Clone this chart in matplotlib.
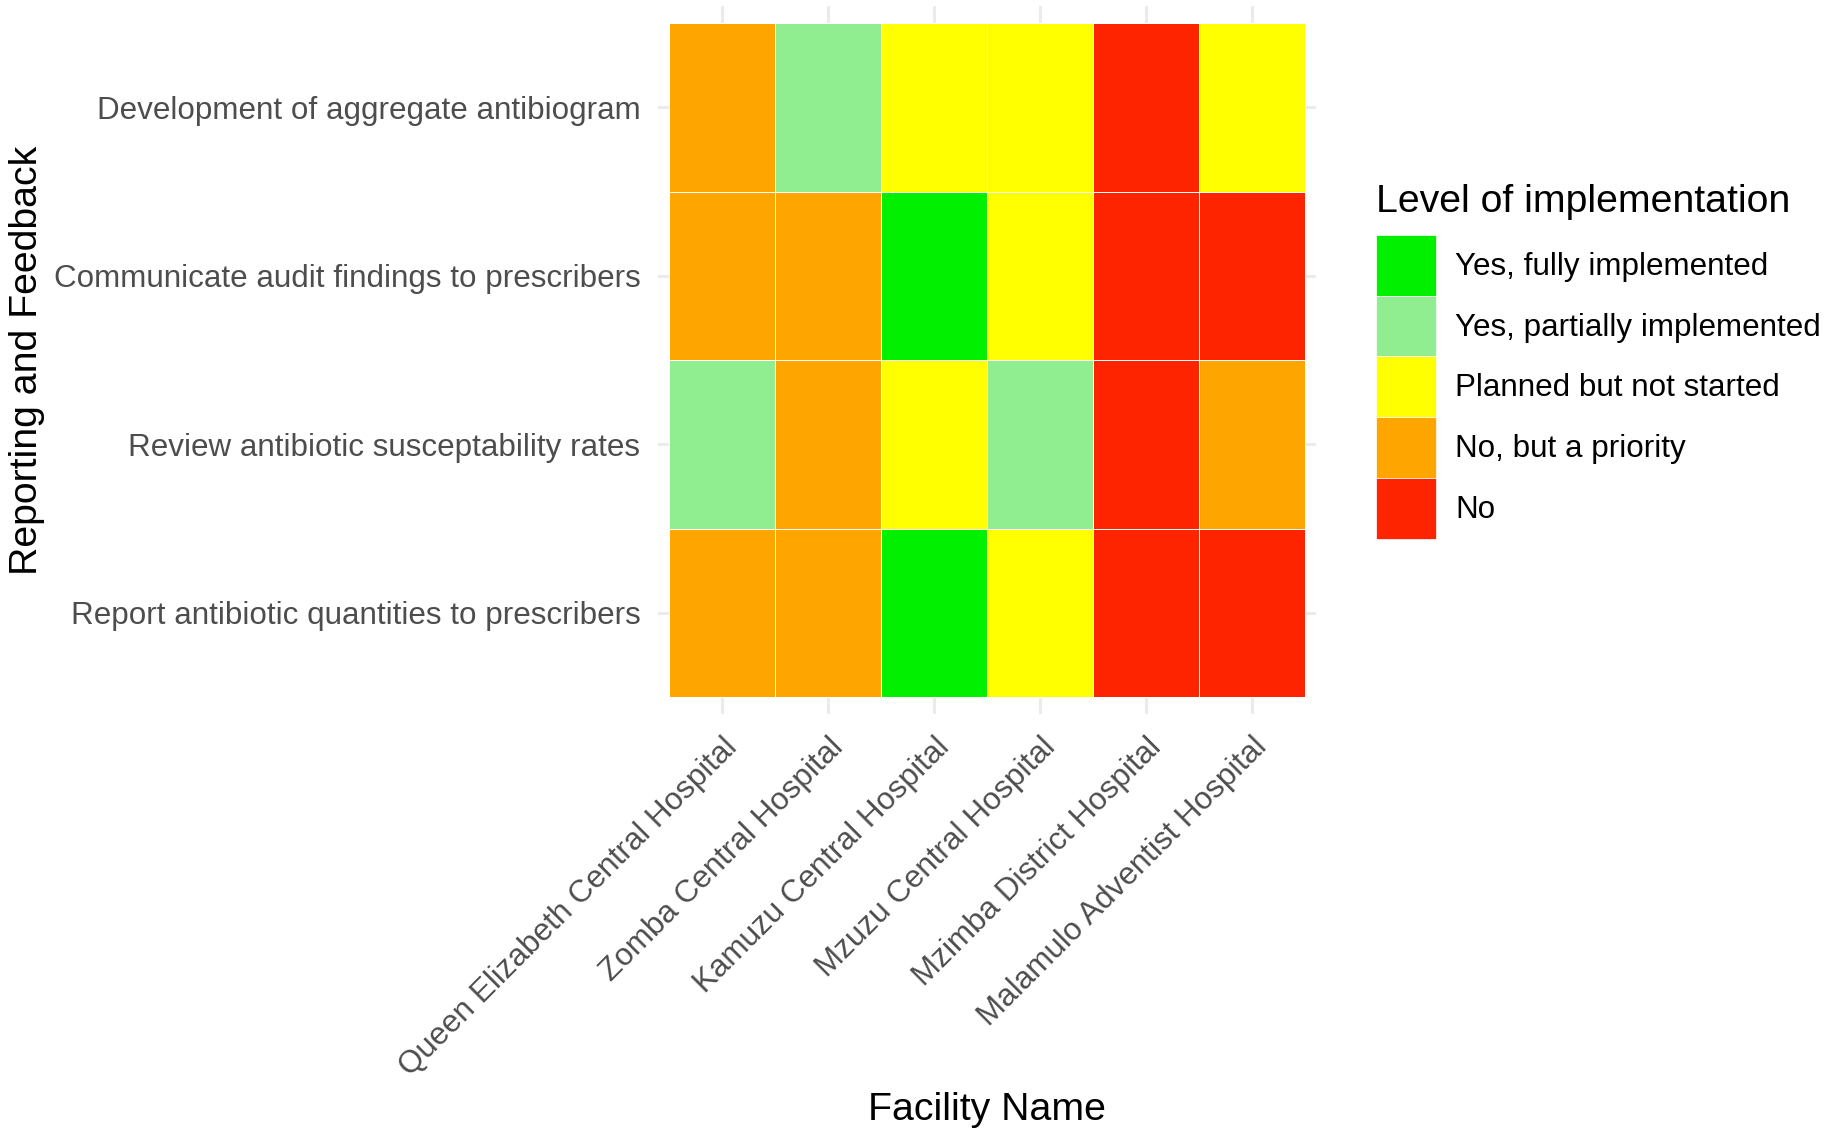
import matplotlib
matplotlib.use("Agg")
import matplotlib.pyplot as plt
import numpy as np
from matplotlib.colors import ListedColormap
from matplotlib.patches import Patch

plt.rcParams['font.family'] = ['Liberation Sans', 'DejaVu Sans']

# categories
facilities = ['Queen Elizabeth Central Hospital', 'Zomba Central Hospital',
              'Kamuzu Central Hospital', 'Mzuzu Central Hospital',
              'Mzimba District Hospital', 'Malamulo Adventist Hospital']
activities = ['Development of aggregate antibiogram',
              'Communicate audit findings to prescribers',
              'Review antibiotic susceptability rates',
              'Report antibiotic quantities to prescribers']

levels = ['Yes, fully implemented', 'Yes, partially implemented',
          'Planned but not started', 'No, but a priority', 'No']
level_colors = ['#00F000', '#90EE90', '#FFFF00', '#FFA500', '#FF2400']

# level index per activity (rows, top to bottom) and facility (columns)
status = [
    [3, 1, 2, 2, 4, 2],
    [3, 3, 0, 2, 4, 4],
    [1, 3, 2, 1, 4, 3],
    [3, 3, 0, 2, 4, 4],
]

W, H = 1831, 1138
fs_tick = 22.6
fs_title = 28.3

fig = plt.figure(figsize=(W / 100, H / 100), dpi=100)
ax = fig.add_axes([658.4 / W, 1 - 714 / H, 657.2 / W, 707.8 / H])

grid = np.array(status)
cmap = ListedColormap(level_colors)
xe = np.arange(len(facilities) + 1) - 0.5
ye = np.arange(len(activities) + 1) - 0.5
ax.pcolormesh(xe, ye, grid, cmap=cmap, vmin=-0.5, vmax=len(levels) - 0.5,
              edgecolors='white', linewidth=0.5, zorder=2)

ax.set_xlim(-0.6, len(facilities) - 0.4)
ax.set_ylim(len(activities) - 0.4, -0.6)
ax.set_xticks(range(len(facilities)))
ax.set_yticks(range(len(activities)))
ax.set_xticklabels(facilities, rotation=45, ha='right', va='top',
                   rotation_mode='anchor', fontsize=fs_tick, color='#4D4D4D')
ax.set_yticklabels(activities, fontsize=fs_tick, color='#4D4D4D')
ax.tick_params(length=0, pad=13)
ax.grid(True, color='#EBEBEB', linewidth=2.2, zorder=0)
ax.set_axisbelow(True)
for s in ax.spines.values():
    s.set_visible(False)

ax.set_xlabel('Facility Name', fontsize=fs_title)
ax.xaxis.set_label_coords(0.5, -0.5343)
ax.set_ylabel('Reporting and Feedback', fontsize=fs_title)
ax.yaxis.set_label_coords(-0.934, 0.5)

# legend: title drawn separately so the gap above the keys can be set
fig.text(1376 / W, 1 - 212 / H, 'Level of implementation', fontsize=fs_title,
         ha='left', va='baseline')
handles = [Patch(facecolor=c, edgecolor='white', linewidth=0.5) for c in level_colors]
leg = fig.legend(handles, levels, loc='upper left',
                 bbox_to_anchor=(1376 / W, 1 - 235 / H),
                 frameon=False, fontsize=fs_tick, borderpad=0,
                 borderaxespad=0, labelspacing=0, handlelength=1.90,
                 handleheight=2.6, handletextpad=0.62)

fig.savefig('out.png', dpi=100)
